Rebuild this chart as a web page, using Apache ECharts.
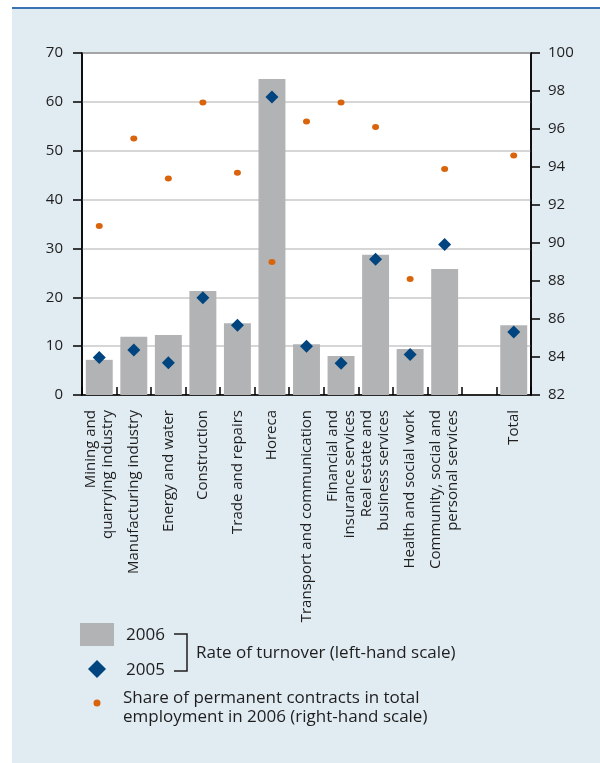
<!DOCTYPE html>
<html>
<head>
<meta charset="utf-8">
<script src="https://cdn.jsdelivr.net/npm/echarts@6/dist/echarts.min.js"></script>
<style>
  html, body { margin: 0; padding: 0; background: #ffffff; }
  #panel {
    position: absolute; left: 12px; top: 7px; width: 588px; height: 756px;
    background: #e1ebf2; border-top: 2px solid #3a72b4; box-sizing: border-box;
  }
  #chart { position: absolute; left: 0; top: 0; width: 600px; height: 763px; }
</style>
</head>
<body>
<div id="panel"></div>
<div id="chart"></div>
<script>
// Sectors (one blank slot separates the total from the sectors)
const categories = [
  'Mining and\nquarrying industry',
  'Manufacturing industry',
  'Energy and water',
  'Construction',
  'Trade and repairs',
  'Horeca',
  'Transport and communication',
  'Financial and\ninsurance services',
  'Real estate and\nbusiness services',
  'Health and social work',
  'Community, social and\npersonal services',
  '',
  'Total'
];

// Rate of turnover, % (left-hand scale)
const turnover2006 = [7.2, 11.9, 12.3, 21.3, 14.7, 64.7, 10.4, 8.0, 28.7, 9.4, 25.8, null, 14.3];
const turnover2005 = [7.7, 9.2, 6.6, 19.9, 14.3, 61.0, 10.0, 6.5, 27.8, 8.3, 30.8, null, 12.9];

// Share of permanent contracts in total employment in 2006, % (right-hand scale)
const permanentShare2006 = [90.9, 95.5, 93.4, 97.4, 93.7, 89.0, 96.4, 97.4, 96.1, 88.1, 93.9, null, 94.6];

// Axis scales
const leftScale = { min: 0, max: 70, interval: 10 };
const rightScale = { min: 82, max: 100, interval: 2 };

// Legend texts
const legendBarLabel = '2006';
const legendDiamondLabel = '2005';
const legendTurnoverLabel = 'Rate of turnover (left-hand scale)';
const legendShareLabel = 'Share of permanent contracts in total\nemployment in 2006 (right-hand scale)';

const FONT = '"Open Sans", "Noto Sans", sans-serif';
const TEXT = '#1e1e1e';
const GREY = '#b2b3b5';
const BLUE = '#00457f';
const ORANGE = '#da640c';

const chart = echarts.init(document.getElementById('chart'), null, { renderer: 'canvas' });

chart.setOption({
  backgroundColor: 'transparent',
  animation: false,
  textStyle: { fontFamily: FONT },
  grid: {
    left: 82, right: 69, top: 53, bottom: 368,
    show: true, backgroundColor: '#ffffff', borderColor: '#000000', borderWidth: 1.5
  },
  xAxis: {
    type: 'category',
    data: categories,
    boundaryGap: true,
    axisLine: { lineStyle: { color: '#000000', width: 1.5 } },
    axisTick: { show: true, inside: true, length: 8, interval: 0, lineStyle: { color: '#000000', width: 1.5 } },
    axisLabel: {
      interval: 0, rotate: 90, margin: 15,
      fontFamily: FONT, fontSize: 15, lineHeight: 17, color: TEXT
    },
    splitLine: { show: false }
  },
  yAxis: [
    {
      type: 'value', position: 'left',
      min: leftScale.min, max: leftScale.max, interval: leftScale.interval,
      axisLine: { show: true, lineStyle: { color: '#000000', width: 1.5 } },
      axisTick: { show: true, inside: false, length: 9, lineStyle: { color: '#000000', width: 1.5 } },
      axisLabel: { margin: 19, fontFamily: FONT, fontSize: 15, color: TEXT },
      splitLine: { show: true, lineStyle: { color: '#c8c8c8', width: 1.5 } }
    },
    {
      type: 'value', position: 'right',
      min: rightScale.min, max: rightScale.max, interval: rightScale.interval,
      axisLine: { show: true, lineStyle: { color: '#000000', width: 1.5 } },
      axisTick: { show: true, inside: false, length: 9, lineStyle: { color: '#000000', width: 1.5 } },
      axisLabel: { margin: 17, fontFamily: FONT, fontSize: 15, color: TEXT },
      splitLine: { show: false }
    }
  ],
  series: [
    {
      name: '2006', type: 'bar', yAxisIndex: 0,
      data: turnover2006, barWidth: '78%',
      itemStyle: { color: GREY }, z: 2
    },
    {
      name: '2005', type: 'scatter', yAxisIndex: 0,
      data: turnover2005, symbol: 'diamond', symbolSize: [13, 13],
      itemStyle: { color: BLUE, opacity: 1 }, z: 4
    },
    {
      name: 'Share of permanent contracts', type: 'scatter', yAxisIndex: 1,
      data: permanentShare2006, symbol: 'circle', symbolSize: [7, 6],
      itemStyle: { color: ORANGE, opacity: 1 }, z: 3
    }
  ],
  graphic: [
    // legend: bars
    { type: 'rect', shape: { x: 80, y: 623, width: 34, height: 23 }, style: { fill: GREY } },
    { type: 'text', x: 126, y: 635, style: { text: legendBarLabel, font: '17px ' + FONT, fill: TEXT, verticalAlign: 'middle' } },
    // legend: diamonds
    { type: 'polygon', shape: { points: [[97, 660], [106, 669], [97, 678], [88, 669]] }, style: { fill: BLUE } },
    { type: 'text', x: 126, y: 670, style: { text: legendDiamondLabel, font: '17px ' + FONT, fill: TEXT, verticalAlign: 'middle' } },
    // bracket joining both years
    { type: 'polyline', shape: { points: [[174, 634], [187, 634], [187, 671], [174, 671]] }, style: { stroke: '#1e1e1e', lineWidth: 1.5, fill: null } },
    { type: 'text', x: 196, y: 653, style: { text: legendTurnoverLabel, font: '17px ' + FONT, fill: TEXT, verticalAlign: 'middle' } },
    // legend: dots
    { type: 'circle', shape: { cx: 97, cy: 703, r: 3.5 }, style: { fill: ORANGE } },
    { type: 'text', x: 123, y: 689, style: { text: legendShareLabel, font: '17px ' + FONT, lineHeight: 19, fill: TEXT, verticalAlign: 'top' } }
  ]
});
</script>
</body>
</html>
